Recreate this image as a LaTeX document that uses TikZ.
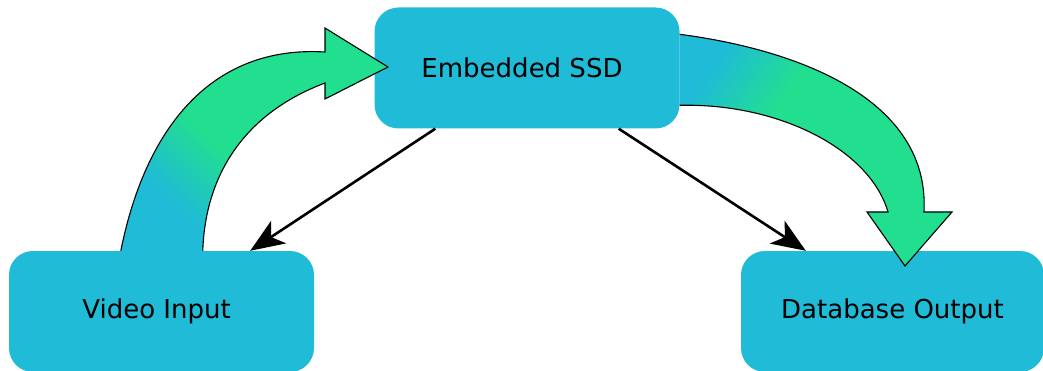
\documentclass[tikz,border=0pt]{standalone}
\usepackage{fontspec}
\setmainfont{DejaVu Sans}
\usetikzlibrary{arrows.meta,calc}

\definecolor{boxblue}{RGB}{31,187,215}
\definecolor{flowgreen}{RGB}{34,223,143}

% blue-to-green fill of the two wide flow arrows
\pgfdeclarehorizontalshading{leftflow}{100bp}{color(0bp)=(boxblue); color(29bp)=(boxblue); color(44bp)=(flowgreen); color(100bp)=(flowgreen)}
\pgfdeclarehorizontalshading{rightflow}{100bp}{color(0bp)=(boxblue); color(24bp)=(boxblue); color(39bp)=(flowgreen); color(100bp)=(flowgreen)}

\tikzset{
  stagebox/.style={fill=boxblue, rounded corners=24pt, minimum width=305pt,
    minimum height=121pt, inner sep=0pt, font=\fontsize{26}{30}\selectfont},
  flow/.style={draw=black, line width=1.1pt, line join=miter},
  conn/.style={draw=black, line width=2.6pt,
    -{Stealth[length=34pt, width=27pt, inset=9pt]}},
}

\begin{document}
\begin{tikzpicture}[x=1pt, y=-1pt]
  \useasboundingbox (0,0) rectangle (1043,371);

  % stages
  \node[stagebox] (ssd) at (527,68)  {Embedded SSD\hspace*{10pt}};
  \node[stagebox] (vid) at (161.5,311.5) {Video Input\hspace*{10pt}};
  \node[stagebox, minimum width=303pt] (db) at (892.5,311.5) {Database Output};

  % wide curved arrow: video input -> SSD (tail edge left open)
  \shade[flow, shading=leftflow, shading angle=45]
    ($(vid.north west)+(112,0)$)
      .. controls (145,130) and (210,45) .. (325,52)
      -- (325,28) -- (388,67) -- (325,99) -- (325,83)
      .. controls (240,115) and (205,180) .. ($(vid.north west)+(194,0)$);

  % wide curved arrow: SSD -> database output (tail edge left open)
  \shade[flow, shading=rightflow, shading angle=-35]
    ($(ssd.north east)+(0,27)$)
      .. controls (800,50) and (930,100) .. (924,212)
      -- (952,212) -- (905,266) -- (867,212) -- (888,212)
      .. controls (870,150) and (780,103) .. ($(ssd.north east)+(0,98)$);

  % straight connectors
  \draw[conn] ([xshift=61pt]ssd.south west) -- ([xshift=-64pt]vid.north east);
  \draw[conn] ([xshift=-61pt]ssd.south east) -- ([xshift=65pt]db.north west);
\end{tikzpicture}
\end{document}
